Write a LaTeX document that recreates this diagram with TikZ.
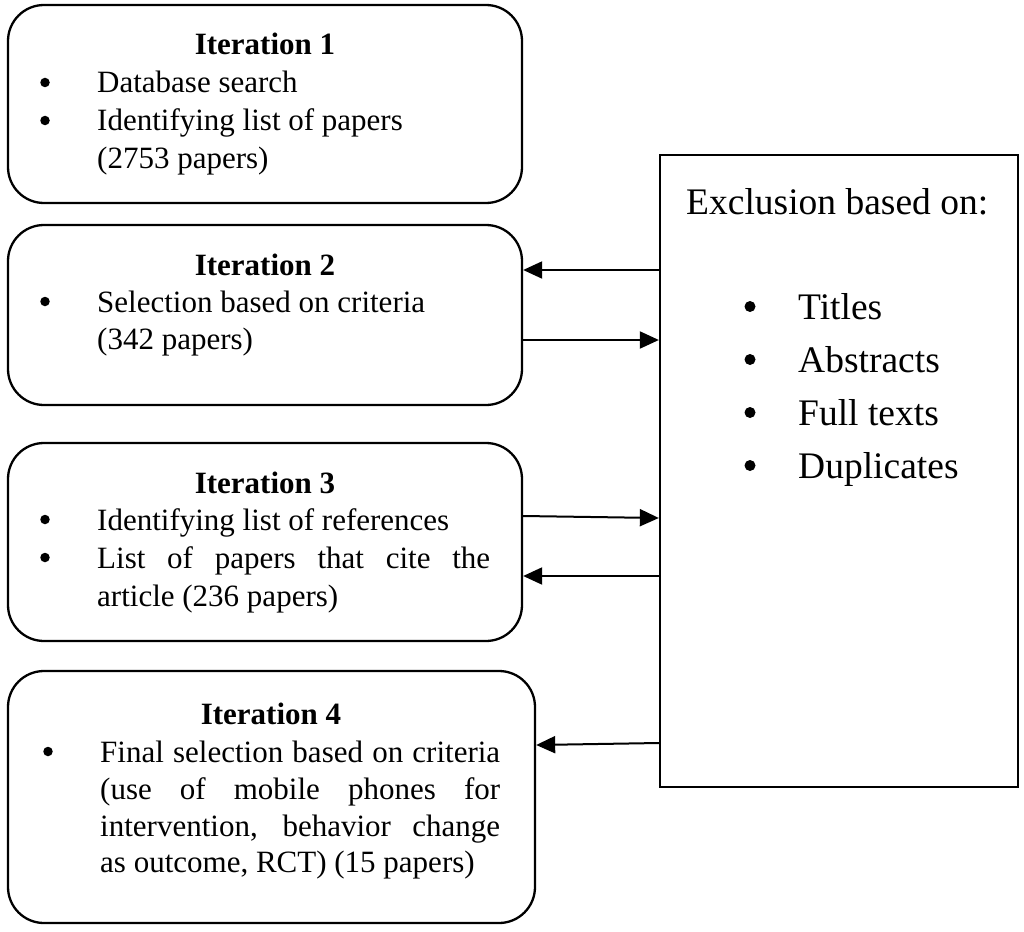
\documentclass[tikz,border=0pt]{standalone}
\usepackage{fontspec}
\setmainfont{Liberation Serif}
\usetikzlibrary{arrows.meta}
\tikzset{
  ibox/.style={draw, line width=2.3pt, rounded corners=36pt, inner sep=0pt},
  xbox/.style={draw, line width=2.3pt, inner sep=0pt},
  txt/.style={anchor=base west, inner sep=0pt, font=\fontsize{31}{37.5}\selectfont},
  ttl/.style={anchor=base, inner sep=0pt, font=\fontsize{31}{37.5}\selectfont\bfseries},
  bul/.style={circle, fill, inner sep=0pt, minimum size=9.5pt, yshift=10.5pt},
  big/.style={anchor=base west, inner sep=0pt, font=\fontsize{37.5}{45}\selectfont},
  bigbul/.style={circle, fill, inner sep=0pt, minimum size=11pt, yshift=12.5pt},
  arr/.style={line width=2pt, -{Triangle[length=19pt,width=17pt]}}
}
\begin{document}
\begin{tikzpicture}[x=1pt,y=-1pt]
\useasboundingbox (0,0) rectangle (1024,931);
% boxes
\node[ibox, minimum width=514pt, minimum height=198pt] (b1) at (265,104) {};
\node[ibox, minimum width=514pt, minimum height=180pt] (b2) at (265,315) {};
\node[ibox, minimum width=514pt, minimum height=198pt] (b3) at (265,542) {};
\node[ibox, minimum width=527pt, minimum height=252pt] (b4) at (271.5,797) {};
\node[xbox, minimum width=358pt, minimum height=632pt] (rb) at (839,471) {};
% box 1
\node[ttl] (t1) at (265,55) {Iteration 1};
\node[bul] (u11) at (45,93) {};
\node[txt] (l11) at (97,93) {Database search};
\node[bul] (u12) at (45,131) {};
\node[txt] (l12) at (97,131) {Identifying list of papers};
\node[txt] (l13) at (97,168) {(2753 papers)};
% box 2
\node[ttl] (t2) at (265,275) {Iteration 2};
\node[bul] (u21) at (45,312) {};
\node[txt] (l21) at (97,312) {Selection based on criteria};
\node[txt] (l22) at (97,349) {(342 papers)};
% box 3
\node[ttl] (t3) at (265,493) {Iteration 3};
\node[bul] (u31) at (45,530) {};
\node[txt] (l31) at (97,530) {Identifying list of references};
\node[bul] (u32) at (45,568) {};
\node[txt] (l32) at (97,568) {\makebox[393pt][s]{List of papers that cite the}};
\node[txt] (l33) at (97,606) {article (236 papers)};
% box 4
\node[ttl] (t4) at (271,724) {Iteration 4};
\node[bul] (u41) at (48,762) {};
\node[txt] (l41) at (100,762) {\makebox[400pt][s]{Final selection based on criteria}};
\node[txt] (l42) at (100,799) {\makebox[400pt][s]{(use of mobile phones for}};
\node[txt] (l43) at (100,836) {\makebox[400pt][s]{intervention, behavior change}};
\node[txt] (l44) at (100,872) {as outcome, RCT) (15 papers)};
% right box
\node[big] (ex) at (686,214) {Exclusion based on:};
\node[bigbul] (r1b) at (750,319) {};
\node[big] (r1) at (798,319) {Titles};
\node[bigbul] (r2b) at (750,372) {};
\node[big] (r2) at (798,372) {Abstracts};
\node[bigbul] (r3b) at (750,425) {};
\node[big] (r3) at (798,425) {Full texts};
\node[bigbul] (r4b) at (750,478) {};
\node[big] (r4) at (798,478) {Duplicates};
% arrows
\draw[arr] (rb.west |- 0,270) -- (b2.east |- 0,270);
\draw[arr] (b2.east |- 0,340) -- (rb.west |- 0,340);
\draw[arr] (b3.east |- 0,516) -- (rb.west |- 0,518);
\draw[arr] (rb.west |- 0,576) -- (b3.east |- 0,576);
\draw[arr] (rb.west |- 0,743) -- (b4.east |- 0,745);
\end{tikzpicture}
\end{document}
